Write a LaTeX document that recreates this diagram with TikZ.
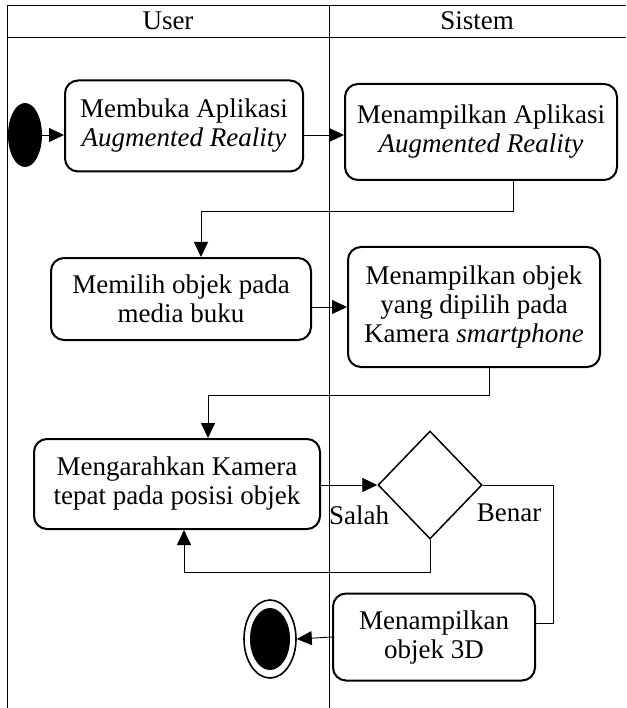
\documentclass[tikz,border=0pt]{standalone}
\usepackage{fontspec}
\setmainfont{Liberation Serif}
\usetikzlibrary{shapes.geometric, arrows.meta, positioning}

\begin{document}
\begin{tikzpicture}[x=1pt, y=-1pt,
    txt/.style={font=\fontsize{27}{29}\selectfont},
    activity/.style={txt, draw, line width=2pt, rounded corners=13pt, align=center, inner sep=0pt},
    decision/.style={draw, diamond, line width=1.5pt, inner sep=0pt, minimum width=104pt, minimum height=108pt},
    frame/.style={line width=0.8pt},
    line/.style={line width=0.9pt},
    flow/.style={line, -{Triangle[length=15pt,width=14pt]}}]
  \useasboundingbox (0,0) rectangle (626,708);

  % Swimlanes
  \draw[frame] (7,5) -- (626,5);
  \draw[frame] (7,37) -- (626,37);
  \draw[frame] (7,5) -- (7,708);
  \draw[frame] (329,5) -- (329,708);
  \node[txt] (user) at (168,21) {User};
  \node[txt] (sistem) at (477,21) {Sistem};

  % Start and end
  \node[ellipse, fill=black, minimum width=34pt, minimum height=64pt, inner sep=0pt] (start) at (25,135) {};
  \node[ellipse, draw, line width=1.6pt, minimum width=52pt, minimum height=78pt, inner sep=0pt] (endout) at (270,639) {};
  \node[ellipse, fill=black, minimum width=40pt, minimum height=62pt, inner sep=0pt] (endin) at (270,639) {};

  % Activities
  \node[activity, minimum width=238pt, minimum height=91pt] (open) at (184,126) {Membuka Aplikasi\\\textit{Augmented Reality}};
  \node[activity, minimum width=272pt, minimum height=96pt] (showapp) at (481,132) {Menampilkan Aplikasi\\\textit{Augmented Reality}};
  \node[activity, minimum width=260pt, minimum height=82pt] (choose) at (181,299) {Memilih objek pada\\media buku};
  \node[activity, minimum width=252pt, minimum height=120pt] (showobj) at (474,307) {Menampilkan objek\\yang dipilih pada\\Kamera \textit{smartphone}};
  \node[activity, minimum width=286pt, minimum height=90pt] (aim) at (177,484) {Mengarahkan Kamera\\tepat pada posisi objek};
  \node[decision] (dec) at (430,485) {};
  \node[activity, minimum width=202pt, minimum height=87pt] (show3d) at (434,637) {Menampilkan\\objek 3D};

  % Guards
  \node[txt] (salah) at (359,515) {Salah};
  \node[txt] (benar) at (509,513) {Benar};

  % Turning points
  \coordinate (bcTurn) at (201,211);
  \coordinate (edTurn) at (208,395);
  \coordinate (salahTurn) at (184,572);
  \coordinate (benarTurn) at (553,623);

  % Flows
  \draw[flow] (start.east) -- (start.east -| open.west);
  \draw[flow] ([yshift=-9pt]open.east) -- ([yshift=-9pt]open.east -| showapp.west);
  \draw[flow] ([xshift=32pt]showapp.south) |- (bcTurn) -- (bcTurn |- choose.north);
  \draw[flow] (choose.east |- showobj.west) -- (showobj.west);
  \draw[flow] ([xshift=15pt]showobj.south) |- (edTurn) -- (edTurn |- aim.north);
  \draw[flow] (aim.east |- dec.west) -- (dec.west);
  \draw[flow] (dec.south) |- (salahTurn) -- (salahTurn |- aim.south);
  \draw[line] (dec.east) -| (benarTurn) -- (benarTurn -| show3d.east);
  \draw[flow] (show3d.west) -- (endout.east);
\end{tikzpicture}
\end{document}
